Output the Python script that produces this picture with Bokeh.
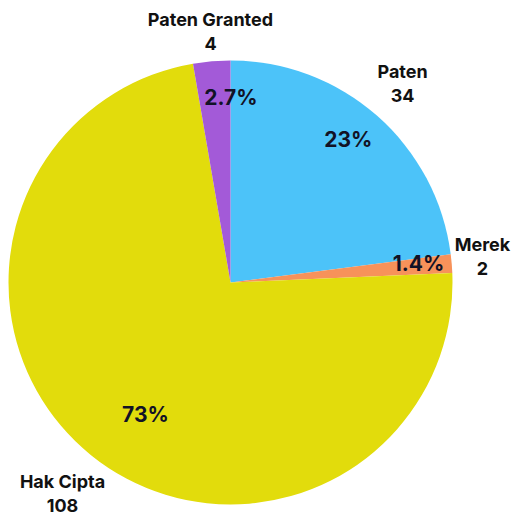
import math
from bokeh.plotting import figure
from bokeh.models import Range1d, ColumnDataSource
from bokeh.core.properties import value
from bokeh.embed import file_html
from bokeh.resources import INLINE

categories = ["Paten", "Merek", "Hak Cipta", "Paten Granted"]
counts = [34, 2, 108, 4]
pct_labels = ["23%", "1.4%", "73%", "2.7%"]
colors = ["#4CC3F9", "#F7925A", "#E2DC0C", "#A35AD8"]

W, H = 512, 515
p = figure(width=W, height=H, output_backend="svg", toolbar_location=None,
           x_range=Range1d(0, W), y_range=Range1d(-H, 0),
           min_border=0, outline_line_color=None)
p.axis.visible = False
p.grid.visible = False

cx, cy, R = 230, -282, 222
total = sum(counts)
starts, ends, mids = [], [], []
acc = 0
for c in counts:
    a0 = math.pi / 2 - 2 * math.pi * acc / total
    acc += c
    a1 = math.pi / 2 - 2 * math.pi * acc / total
    starts.append(a0)
    ends.append(a1)
    mids.append((a0 + a1) / 2)

src = ColumnDataSource(dict(start=starts, end=ends, color=colors))
p.wedge(x=cx, y=cy, radius=R, start_angle="start", end_angle="end",
        direction="clock", fill_color="color", line_color=None, source=src)

# label placement styling (radius factor, angle nudge in degrees)
pct_r = [0.833, 0.851, 0.707, 0.833]
pct_da = [1.8, 0.9, 6.1, -5.0]
lab_r = [1.185, 1.141, 1.215, 1.134]
lab_da = [0.5, 1.0, 0.4, -0.3]

def pos(rf, da):
    xs, ys = [], []
    for f, d, m in zip(rf, da, mids):
        a = m + math.radians(d)
        xs.append(cx + R * f * math.cos(a))
        ys.append(cy + R * f * math.sin(a))
    return xs, ys

px, py = pos(pct_r, pct_da)
p.text(x=px, y=py, text=pct_labels, text_align="center", text_baseline="middle",
       text_font=value("Inter"), text_font_style="bold", text_font_size="21px",
       text_color="#121226")

lx, ly = pos(lab_r, lab_da)
p.text(x=lx, y=ly, text=categories, y_offset=-12, text_align="center",
       text_baseline="middle", text_font=value("Inter"), text_font_style="bold",
       text_font_size="18px", text_color="#111111")
p.text(x=lx, y=ly, text=[str(c) for c in counts], y_offset=12, text_align="center",
       text_baseline="middle", text_font=value("Inter"), text_font_style="bold",
       text_font_size="18px", text_color="#111111")

open("out.html", "w").write(file_html(p, INLINE))
